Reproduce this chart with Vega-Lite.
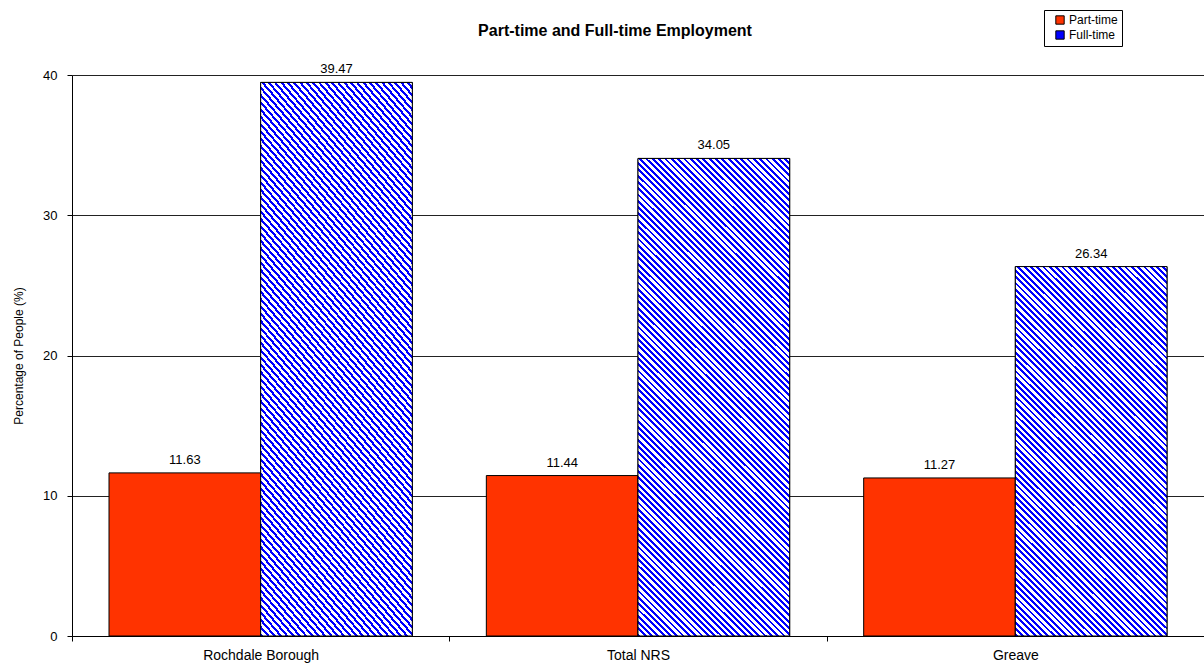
{
  "$schema": "https://vega.github.io/schema/vega-lite/v6.json",
  "width": 1132,
  "height": 561,
  "autosize": "none",
  "padding": {"left": 72, "top": 75, "right": 0, "bottom": 29},
  "background": "white",
  "title": {"text": "Part-time and Full-time Employment", "font": "Liberation Sans", "fontSize": 16, "fontWeight": "bold", "color": "black", "anchor": "middle", "frame": "group", "dx": -23, "offset": -29},
  "config": {"view": {"stroke": null}, "font": "Liberation Sans"},
  "data": {"values": [
    {"area": "Rochdale Borough", "type": "Part-time", "pct": 11.63},
    {"area": "Rochdale Borough", "type": "Full-time", "pct": 39.47},
    {"area": "Total NRS", "type": "Part-time", "pct": 11.44},
    {"area": "Total NRS", "type": "Full-time", "pct": 34.05},
    {"area": "Greave", "type": "Part-time", "pct": 11.27},
    {"area": "Greave", "type": "Full-time", "pct": 26.34}
  ]},
  "encoding": {
    "x": {"field": "area", "type": "nominal", "sort": ["Rochdale Borough", "Total NRS", "Greave"],
      "scale": {"paddingInner": 0, "paddingOuter": 0},
      "axis": {"title": null, "labelAngle": 0, "labelFontSize": 14, "labelColor": "black", "labelPadding": 7, "tickBand": "extent", "tickColor": "black", "tickSize": 5, "domainColor": "black", "grid": false}},
    "xOffset": {"field": "type", "type": "nominal", "scale": {"domain": ["Part-time", "Full-time"], "paddingOuter": 0.244, "paddingInner": 0}},
    "y": {"field": "pct", "type": "quantitative", "scale": {"domain": [0, 40]},
      "axis": {"title": "Percentage of People (%)", "titleFontSize": 12, "titleFontWeight": "normal", "titleColor": "black", "titlePadding": 17, "values": [0, 10, 20, 30, 40], "labelFontSize": 13, "labelColor": "black", "labelPadding": 10, "tickColor": "black", "tickSize": 5, "domainColor": "black", "grid": true, "gridColor": "#222", "gridWidth": 1}}
  },
  "layer": [
    {
      "mark": {"type": "bar", "stroke": "black", "strokeWidth": 1},
      "encoding": {
        "color": {"field": "type", "type": "nominal",
          "scale": {"domain": ["Part-time", "Full-time"], "range": ["#ff3300", "#0000ff"]},
          "legend": {"title": null, "orient": "none", "legendX": 972, "legendY": -65, "strokeColor": "black", "fillColor": "white", "padding": 4, "labelFontSize": 12, "labelColor": "black", "labelFont": "Liberation Sans", "symbolType": "square", "symbolSize": 70, "symbolStrokeColor": "black", "symbolStrokeWidth": 1, "symbolOpacity": 1, "symbolOffset": 6, "rowPadding": 1, "labelOffset": 3, "cornerRadius": 0}
        }
      }
    },
    {
      "transform": [{"filter": "datum.type === 'Full-time' && datum.area === 'Greave'"}],
      "mark": {"type": "bar", "stroke": "black", "strokeWidth": 1, "fill": {"gradient": "linear", "x1": 0, "y1": 1, "x2": 0.5954, "y2": -0.4567, "stops": [
{"offset":0,"color":"#00f"},{"offset":0.0045,"color":"#00f"},{"offset":0.0045,"color":"#fff"},{"offset":0.01,"color":"#fff"},
{"offset":0.01,"color":"#00f"},{"offset":0.0145,"color":"#00f"},{"offset":0.0145,"color":"#fff"},{"offset":0.02,"color":"#fff"},
{"offset":0.02,"color":"#00f"},{"offset":0.0245,"color":"#00f"},{"offset":0.0245,"color":"#fff"},{"offset":0.03,"color":"#fff"},
{"offset":0.03,"color":"#00f"},{"offset":0.0345,"color":"#00f"},{"offset":0.0345,"color":"#fff"},{"offset":0.04,"color":"#fff"},
{"offset":0.04,"color":"#00f"},{"offset":0.0445,"color":"#00f"},{"offset":0.0445,"color":"#fff"},{"offset":0.05,"color":"#fff"},
{"offset":0.05,"color":"#00f"},{"offset":0.0545,"color":"#00f"},{"offset":0.0545,"color":"#fff"},{"offset":0.06,"color":"#fff"},
{"offset":0.06,"color":"#00f"},{"offset":0.0645,"color":"#00f"},{"offset":0.0645,"color":"#fff"},{"offset":0.07,"color":"#fff"},
{"offset":0.07,"color":"#00f"},{"offset":0.0745,"color":"#00f"},{"offset":0.0745,"color":"#fff"},{"offset":0.08,"color":"#fff"},
{"offset":0.08,"color":"#00f"},{"offset":0.0845,"color":"#00f"},{"offset":0.0845,"color":"#fff"},{"offset":0.09,"color":"#fff"},
{"offset":0.09,"color":"#00f"},{"offset":0.0945,"color":"#00f"},{"offset":0.0945,"color":"#fff"},{"offset":0.10,"color":"#fff"},
{"offset":0.10,"color":"#00f"},{"offset":0.1045,"color":"#00f"},{"offset":0.1045,"color":"#fff"},{"offset":0.11,"color":"#fff"},
{"offset":0.11,"color":"#00f"},{"offset":0.1145,"color":"#00f"},{"offset":0.1145,"color":"#fff"},{"offset":0.12,"color":"#fff"},
{"offset":0.12,"color":"#00f"},{"offset":0.1245,"color":"#00f"},{"offset":0.1245,"color":"#fff"},{"offset":0.13,"color":"#fff"},
{"offset":0.13,"color":"#00f"},{"offset":0.1345,"color":"#00f"},{"offset":0.1345,"color":"#fff"},{"offset":0.14,"color":"#fff"},
{"offset":0.14,"color":"#00f"},{"offset":0.1445,"color":"#00f"},{"offset":0.1445,"color":"#fff"},{"offset":0.15,"color":"#fff"},
{"offset":0.15,"color":"#00f"},{"offset":0.1545,"color":"#00f"},{"offset":0.1545,"color":"#fff"},{"offset":0.16,"color":"#fff"},
{"offset":0.16,"color":"#00f"},{"offset":0.1645,"color":"#00f"},{"offset":0.1645,"color":"#fff"},{"offset":0.17,"color":"#fff"},
{"offset":0.17,"color":"#00f"},{"offset":0.1745,"color":"#00f"},{"offset":0.1745,"color":"#fff"},{"offset":0.18,"color":"#fff"},
{"offset":0.18,"color":"#00f"},{"offset":0.1845,"color":"#00f"},{"offset":0.1845,"color":"#fff"},{"offset":0.19,"color":"#fff"},
{"offset":0.19,"color":"#00f"},{"offset":0.1945,"color":"#00f"},{"offset":0.1945,"color":"#fff"},{"offset":0.20,"color":"#fff"},
{"offset":0.20,"color":"#00f"},{"offset":0.2045,"color":"#00f"},{"offset":0.2045,"color":"#fff"},{"offset":0.21,"color":"#fff"},
{"offset":0.21,"color":"#00f"},{"offset":0.2145,"color":"#00f"},{"offset":0.2145,"color":"#fff"},{"offset":0.22,"color":"#fff"},
{"offset":0.22,"color":"#00f"},{"offset":0.2245,"color":"#00f"},{"offset":0.2245,"color":"#fff"},{"offset":0.23,"color":"#fff"},
{"offset":0.23,"color":"#00f"},{"offset":0.2345,"color":"#00f"},{"offset":0.2345,"color":"#fff"},{"offset":0.24,"color":"#fff"},
{"offset":0.24,"color":"#00f"},{"offset":0.2445,"color":"#00f"},{"offset":0.2445,"color":"#fff"},{"offset":0.25,"color":"#fff"},
{"offset":0.25,"color":"#00f"},{"offset":0.2545,"color":"#00f"},{"offset":0.2545,"color":"#fff"},{"offset":0.26,"color":"#fff"},
{"offset":0.26,"color":"#00f"},{"offset":0.2645,"color":"#00f"},{"offset":0.2645,"color":"#fff"},{"offset":0.27,"color":"#fff"},
{"offset":0.27,"color":"#00f"},{"offset":0.2745,"color":"#00f"},{"offset":0.2745,"color":"#fff"},{"offset":0.28,"color":"#fff"},
{"offset":0.28,"color":"#00f"},{"offset":0.2845,"color":"#00f"},{"offset":0.2845,"color":"#fff"},{"offset":0.29,"color":"#fff"},
{"offset":0.29,"color":"#00f"},{"offset":0.2945,"color":"#00f"},{"offset":0.2945,"color":"#fff"},{"offset":0.30,"color":"#fff"},
{"offset":0.30,"color":"#00f"},{"offset":0.3045,"color":"#00f"},{"offset":0.3045,"color":"#fff"},{"offset":0.31,"color":"#fff"},
{"offset":0.31,"color":"#00f"},{"offset":0.3145,"color":"#00f"},{"offset":0.3145,"color":"#fff"},{"offset":0.32,"color":"#fff"},
{"offset":0.32,"color":"#00f"},{"offset":0.3245,"color":"#00f"},{"offset":0.3245,"color":"#fff"},{"offset":0.33,"color":"#fff"},
{"offset":0.33,"color":"#00f"},{"offset":0.3345,"color":"#00f"},{"offset":0.3345,"color":"#fff"},{"offset":0.34,"color":"#fff"},
{"offset":0.34,"color":"#00f"},{"offset":0.3445,"color":"#00f"},{"offset":0.3445,"color":"#fff"},{"offset":0.35,"color":"#fff"},
{"offset":0.35,"color":"#00f"},{"offset":0.3545,"color":"#00f"},{"offset":0.3545,"color":"#fff"},{"offset":0.36,"color":"#fff"},
{"offset":0.36,"color":"#00f"},{"offset":0.3645,"color":"#00f"},{"offset":0.3645,"color":"#fff"},{"offset":0.37,"color":"#fff"},
{"offset":0.37,"color":"#00f"},{"offset":0.3745,"color":"#00f"},{"offset":0.3745,"color":"#fff"},{"offset":0.38,"color":"#fff"},
{"offset":0.38,"color":"#00f"},{"offset":0.3845,"color":"#00f"},{"offset":0.3845,"color":"#fff"},{"offset":0.39,"color":"#fff"},
{"offset":0.39,"color":"#00f"},{"offset":0.3945,"color":"#00f"},{"offset":0.3945,"color":"#fff"},{"offset":0.40,"color":"#fff"},
{"offset":0.40,"color":"#00f"},{"offset":0.4045,"color":"#00f"},{"offset":0.4045,"color":"#fff"},{"offset":0.41,"color":"#fff"},
{"offset":0.41,"color":"#00f"},{"offset":0.4145,"color":"#00f"},{"offset":0.4145,"color":"#fff"},{"offset":0.42,"color":"#fff"},
{"offset":0.42,"color":"#00f"},{"offset":0.4245,"color":"#00f"},{"offset":0.4245,"color":"#fff"},{"offset":0.43,"color":"#fff"},
{"offset":0.43,"color":"#00f"},{"offset":0.4345,"color":"#00f"},{"offset":0.4345,"color":"#fff"},{"offset":0.44,"color":"#fff"},
{"offset":0.44,"color":"#00f"},{"offset":0.4445,"color":"#00f"},{"offset":0.4445,"color":"#fff"},{"offset":0.45,"color":"#fff"},
{"offset":0.45,"color":"#00f"},{"offset":0.4545,"color":"#00f"},{"offset":0.4545,"color":"#fff"},{"offset":0.46,"color":"#fff"},
{"offset":0.46,"color":"#00f"},{"offset":0.4645,"color":"#00f"},{"offset":0.4645,"color":"#fff"},{"offset":0.47,"color":"#fff"},
{"offset":0.47,"color":"#00f"},{"offset":0.4745,"color":"#00f"},{"offset":0.4745,"color":"#fff"},{"offset":0.48,"color":"#fff"},
{"offset":0.48,"color":"#00f"},{"offset":0.4845,"color":"#00f"},{"offset":0.4845,"color":"#fff"},{"offset":0.49,"color":"#fff"},
{"offset":0.49,"color":"#00f"},{"offset":0.4945,"color":"#00f"},{"offset":0.4945,"color":"#fff"},{"offset":0.50,"color":"#fff"},
{"offset":0.50,"color":"#00f"},{"offset":0.5045,"color":"#00f"},{"offset":0.5045,"color":"#fff"},{"offset":0.51,"color":"#fff"},
{"offset":0.51,"color":"#00f"},{"offset":0.5145,"color":"#00f"},{"offset":0.5145,"color":"#fff"},{"offset":0.52,"color":"#fff"},
{"offset":0.52,"color":"#00f"},{"offset":0.5245,"color":"#00f"},{"offset":0.5245,"color":"#fff"},{"offset":0.53,"color":"#fff"},
{"offset":0.53,"color":"#00f"},{"offset":0.5345,"color":"#00f"},{"offset":0.5345,"color":"#fff"},{"offset":0.54,"color":"#fff"},
{"offset":0.54,"color":"#00f"},{"offset":0.5445,"color":"#00f"},{"offset":0.5445,"color":"#fff"},{"offset":0.55,"color":"#fff"},
{"offset":0.55,"color":"#00f"},{"offset":0.5545,"color":"#00f"},{"offset":0.5545,"color":"#fff"},{"offset":0.56,"color":"#fff"},
{"offset":0.56,"color":"#00f"},{"offset":0.5645,"color":"#00f"},{"offset":0.5645,"color":"#fff"},{"offset":0.57,"color":"#fff"},
{"offset":0.57,"color":"#00f"},{"offset":0.5745,"color":"#00f"},{"offset":0.5745,"color":"#fff"},{"offset":0.58,"color":"#fff"},
{"offset":0.58,"color":"#00f"},{"offset":0.5845,"color":"#00f"},{"offset":0.5845,"color":"#fff"},{"offset":0.59,"color":"#fff"},
{"offset":0.59,"color":"#00f"},{"offset":0.5945,"color":"#00f"},{"offset":0.5945,"color":"#fff"},{"offset":0.60,"color":"#fff"},
{"offset":0.60,"color":"#00f"},{"offset":0.6045,"color":"#00f"},{"offset":0.6045,"color":"#fff"},{"offset":0.61,"color":"#fff"},
{"offset":0.61,"color":"#00f"},{"offset":0.6145,"color":"#00f"},{"offset":0.6145,"color":"#fff"},{"offset":0.62,"color":"#fff"},
{"offset":0.62,"color":"#00f"},{"offset":0.6245,"color":"#00f"},{"offset":0.6245,"color":"#fff"},{"offset":0.63,"color":"#fff"},
{"offset":0.63,"color":"#00f"},{"offset":0.6345,"color":"#00f"},{"offset":0.6345,"color":"#fff"},{"offset":0.64,"color":"#fff"},
{"offset":0.64,"color":"#00f"},{"offset":0.6445,"color":"#00f"},{"offset":0.6445,"color":"#fff"},{"offset":0.65,"color":"#fff"},
{"offset":0.65,"color":"#00f"},{"offset":0.6545,"color":"#00f"},{"offset":0.6545,"color":"#fff"},{"offset":0.66,"color":"#fff"},
{"offset":0.66,"color":"#00f"},{"offset":0.6645,"color":"#00f"},{"offset":0.6645,"color":"#fff"},{"offset":0.67,"color":"#fff"},
{"offset":0.67,"color":"#00f"},{"offset":0.6745,"color":"#00f"},{"offset":0.6745,"color":"#fff"},{"offset":0.68,"color":"#fff"},
{"offset":0.68,"color":"#00f"},{"offset":0.6845,"color":"#00f"},{"offset":0.6845,"color":"#fff"},{"offset":0.69,"color":"#fff"},
{"offset":0.69,"color":"#00f"},{"offset":0.6945,"color":"#00f"},{"offset":0.6945,"color":"#fff"},{"offset":0.70,"color":"#fff"},
{"offset":0.70,"color":"#00f"},{"offset":0.7045,"color":"#00f"},{"offset":0.7045,"color":"#fff"},{"offset":0.71,"color":"#fff"},
{"offset":0.71,"color":"#00f"},{"offset":0.7145,"color":"#00f"},{"offset":0.7145,"color":"#fff"},{"offset":0.72,"color":"#fff"},
{"offset":0.72,"color":"#00f"},{"offset":0.7245,"color":"#00f"},{"offset":0.7245,"color":"#fff"},{"offset":0.73,"color":"#fff"},
{"offset":0.73,"color":"#00f"},{"offset":0.7345,"color":"#00f"},{"offset":0.7345,"color":"#fff"},{"offset":0.74,"color":"#fff"},
{"offset":0.74,"color":"#00f"},{"offset":0.7445,"color":"#00f"},{"offset":0.7445,"color":"#fff"},{"offset":0.75,"color":"#fff"},
{"offset":0.75,"color":"#00f"},{"offset":0.7545,"color":"#00f"},{"offset":0.7545,"color":"#fff"},{"offset":0.76,"color":"#fff"},
{"offset":0.76,"color":"#00f"},{"offset":0.7645,"color":"#00f"},{"offset":0.7645,"color":"#fff"},{"offset":0.77,"color":"#fff"},
{"offset":0.77,"color":"#00f"},{"offset":0.7745,"color":"#00f"},{"offset":0.7745,"color":"#fff"},{"offset":0.78,"color":"#fff"},
{"offset":0.78,"color":"#00f"},{"offset":0.7845,"color":"#00f"},{"offset":0.7845,"color":"#fff"},{"offset":0.79,"color":"#fff"},
{"offset":0.79,"color":"#00f"},{"offset":0.7945,"color":"#00f"},{"offset":0.7945,"color":"#fff"},{"offset":0.80,"color":"#fff"},
{"offset":0.80,"color":"#00f"},{"offset":0.8045,"color":"#00f"},{"offset":0.8045,"color":"#fff"},{"offset":0.81,"color":"#fff"},
{"offset":0.81,"color":"#00f"},{"offset":0.8145,"color":"#00f"},{"offset":0.8145,"color":"#fff"},{"offset":0.82,"color":"#fff"},
{"offset":0.82,"color":"#00f"},{"offset":0.8245,"color":"#00f"},{"offset":0.8245,"color":"#fff"},{"offset":0.83,"color":"#fff"},
{"offset":0.83,"color":"#00f"},{"offset":0.8345,"color":"#00f"},{"offset":0.8345,"color":"#fff"},{"offset":0.84,"color":"#fff"},
{"offset":0.84,"color":"#00f"},{"offset":0.8445,"color":"#00f"},{"offset":0.8445,"color":"#fff"},{"offset":0.85,"color":"#fff"},
{"offset":0.85,"color":"#00f"},{"offset":0.8545,"color":"#00f"},{"offset":0.8545,"color":"#fff"},{"offset":0.86,"color":"#fff"}
      ]}}
    },
    {
      "transform": [{"filter": "datum.type === 'Full-time' && datum.area !== 'Greave'"}],
      "mark": {"type": "bar", "stroke": "black", "strokeWidth": 1, "fill": {"gradient": "linear", "x1": 0, "y1": 1, "x2": 0.3788, "y2": -0.1967, "stops": [
{"offset":0,"color":"#00f"},{"offset":0.0045,"color":"#00f"},{"offset":0.0045,"color":"#fff"},{"offset":0.01,"color":"#fff"},
{"offset":0.01,"color":"#00f"},{"offset":0.0145,"color":"#00f"},{"offset":0.0145,"color":"#fff"},{"offset":0.02,"color":"#fff"},
{"offset":0.02,"color":"#00f"},{"offset":0.0245,"color":"#00f"},{"offset":0.0245,"color":"#fff"},{"offset":0.03,"color":"#fff"},
{"offset":0.03,"color":"#00f"},{"offset":0.0345,"color":"#00f"},{"offset":0.0345,"color":"#fff"},{"offset":0.04,"color":"#fff"},
{"offset":0.04,"color":"#00f"},{"offset":0.0445,"color":"#00f"},{"offset":0.0445,"color":"#fff"},{"offset":0.05,"color":"#fff"},
{"offset":0.05,"color":"#00f"},{"offset":0.0545,"color":"#00f"},{"offset":0.0545,"color":"#fff"},{"offset":0.06,"color":"#fff"},
{"offset":0.06,"color":"#00f"},{"offset":0.0645,"color":"#00f"},{"offset":0.0645,"color":"#fff"},{"offset":0.07,"color":"#fff"},
{"offset":0.07,"color":"#00f"},{"offset":0.0745,"color":"#00f"},{"offset":0.0745,"color":"#fff"},{"offset":0.08,"color":"#fff"},
{"offset":0.08,"color":"#00f"},{"offset":0.0845,"color":"#00f"},{"offset":0.0845,"color":"#fff"},{"offset":0.09,"color":"#fff"},
{"offset":0.09,"color":"#00f"},{"offset":0.0945,"color":"#00f"},{"offset":0.0945,"color":"#fff"},{"offset":0.10,"color":"#fff"},
{"offset":0.10,"color":"#00f"},{"offset":0.1045,"color":"#00f"},{"offset":0.1045,"color":"#fff"},{"offset":0.11,"color":"#fff"},
{"offset":0.11,"color":"#00f"},{"offset":0.1145,"color":"#00f"},{"offset":0.1145,"color":"#fff"},{"offset":0.12,"color":"#fff"},
{"offset":0.12,"color":"#00f"},{"offset":0.1245,"color":"#00f"},{"offset":0.1245,"color":"#fff"},{"offset":0.13,"color":"#fff"},
{"offset":0.13,"color":"#00f"},{"offset":0.1345,"color":"#00f"},{"offset":0.1345,"color":"#fff"},{"offset":0.14,"color":"#fff"},
{"offset":0.14,"color":"#00f"},{"offset":0.1445,"color":"#00f"},{"offset":0.1445,"color":"#fff"},{"offset":0.15,"color":"#fff"},
{"offset":0.15,"color":"#00f"},{"offset":0.1545,"color":"#00f"},{"offset":0.1545,"color":"#fff"},{"offset":0.16,"color":"#fff"},
{"offset":0.16,"color":"#00f"},{"offset":0.1645,"color":"#00f"},{"offset":0.1645,"color":"#fff"},{"offset":0.17,"color":"#fff"},
{"offset":0.17,"color":"#00f"},{"offset":0.1745,"color":"#00f"},{"offset":0.1745,"color":"#fff"},{"offset":0.18,"color":"#fff"},
{"offset":0.18,"color":"#00f"},{"offset":0.1845,"color":"#00f"},{"offset":0.1845,"color":"#fff"},{"offset":0.19,"color":"#fff"},
{"offset":0.19,"color":"#00f"},{"offset":0.1945,"color":"#00f"},{"offset":0.1945,"color":"#fff"},{"offset":0.20,"color":"#fff"},
{"offset":0.20,"color":"#00f"},{"offset":0.2045,"color":"#00f"},{"offset":0.2045,"color":"#fff"},{"offset":0.21,"color":"#fff"},
{"offset":0.21,"color":"#00f"},{"offset":0.2145,"color":"#00f"},{"offset":0.2145,"color":"#fff"},{"offset":0.22,"color":"#fff"},
{"offset":0.22,"color":"#00f"},{"offset":0.2245,"color":"#00f"},{"offset":0.2245,"color":"#fff"},{"offset":0.23,"color":"#fff"},
{"offset":0.23,"color":"#00f"},{"offset":0.2345,"color":"#00f"},{"offset":0.2345,"color":"#fff"},{"offset":0.24,"color":"#fff"},
{"offset":0.24,"color":"#00f"},{"offset":0.2445,"color":"#00f"},{"offset":0.2445,"color":"#fff"},{"offset":0.25,"color":"#fff"},
{"offset":0.25,"color":"#00f"},{"offset":0.2545,"color":"#00f"},{"offset":0.2545,"color":"#fff"},{"offset":0.26,"color":"#fff"},
{"offset":0.26,"color":"#00f"},{"offset":0.2645,"color":"#00f"},{"offset":0.2645,"color":"#fff"},{"offset":0.27,"color":"#fff"},
{"offset":0.27,"color":"#00f"},{"offset":0.2745,"color":"#00f"},{"offset":0.2745,"color":"#fff"},{"offset":0.28,"color":"#fff"},
{"offset":0.28,"color":"#00f"},{"offset":0.2845,"color":"#00f"},{"offset":0.2845,"color":"#fff"},{"offset":0.29,"color":"#fff"},
{"offset":0.29,"color":"#00f"},{"offset":0.2945,"color":"#00f"},{"offset":0.2945,"color":"#fff"},{"offset":0.30,"color":"#fff"},
{"offset":0.30,"color":"#00f"},{"offset":0.3045,"color":"#00f"},{"offset":0.3045,"color":"#fff"},{"offset":0.31,"color":"#fff"},
{"offset":0.31,"color":"#00f"},{"offset":0.3145,"color":"#00f"},{"offset":0.3145,"color":"#fff"},{"offset":0.32,"color":"#fff"},
{"offset":0.32,"color":"#00f"},{"offset":0.3245,"color":"#00f"},{"offset":0.3245,"color":"#fff"},{"offset":0.33,"color":"#fff"},
{"offset":0.33,"color":"#00f"},{"offset":0.3345,"color":"#00f"},{"offset":0.3345,"color":"#fff"},{"offset":0.34,"color":"#fff"},
{"offset":0.34,"color":"#00f"},{"offset":0.3445,"color":"#00f"},{"offset":0.3445,"color":"#fff"},{"offset":0.35,"color":"#fff"},
{"offset":0.35,"color":"#00f"},{"offset":0.3545,"color":"#00f"},{"offset":0.3545,"color":"#fff"},{"offset":0.36,"color":"#fff"},
{"offset":0.36,"color":"#00f"},{"offset":0.3645,"color":"#00f"},{"offset":0.3645,"color":"#fff"},{"offset":0.37,"color":"#fff"},
{"offset":0.37,"color":"#00f"},{"offset":0.3745,"color":"#00f"},{"offset":0.3745,"color":"#fff"},{"offset":0.38,"color":"#fff"},
{"offset":0.38,"color":"#00f"},{"offset":0.3845,"color":"#00f"},{"offset":0.3845,"color":"#fff"},{"offset":0.39,"color":"#fff"},
{"offset":0.39,"color":"#00f"},{"offset":0.3945,"color":"#00f"},{"offset":0.3945,"color":"#fff"},{"offset":0.40,"color":"#fff"},
{"offset":0.40,"color":"#00f"},{"offset":0.4045,"color":"#00f"},{"offset":0.4045,"color":"#fff"},{"offset":0.41,"color":"#fff"},
{"offset":0.41,"color":"#00f"},{"offset":0.4145,"color":"#00f"},{"offset":0.4145,"color":"#fff"},{"offset":0.42,"color":"#fff"},
{"offset":0.42,"color":"#00f"},{"offset":0.4245,"color":"#00f"},{"offset":0.4245,"color":"#fff"},{"offset":0.43,"color":"#fff"},
{"offset":0.43,"color":"#00f"},{"offset":0.4345,"color":"#00f"},{"offset":0.4345,"color":"#fff"},{"offset":0.44,"color":"#fff"},
{"offset":0.44,"color":"#00f"},{"offset":0.4445,"color":"#00f"},{"offset":0.4445,"color":"#fff"},{"offset":0.45,"color":"#fff"},
{"offset":0.45,"color":"#00f"},{"offset":0.4545,"color":"#00f"},{"offset":0.4545,"color":"#fff"},{"offset":0.46,"color":"#fff"},
{"offset":0.46,"color":"#00f"},{"offset":0.4645,"color":"#00f"},{"offset":0.4645,"color":"#fff"},{"offset":0.47,"color":"#fff"},
{"offset":0.47,"color":"#00f"},{"offset":0.4745,"color":"#00f"},{"offset":0.4745,"color":"#fff"},{"offset":0.48,"color":"#fff"},
{"offset":0.48,"color":"#00f"},{"offset":0.4845,"color":"#00f"},{"offset":0.4845,"color":"#fff"},{"offset":0.49,"color":"#fff"},
{"offset":0.49,"color":"#00f"},{"offset":0.4945,"color":"#00f"},{"offset":0.4945,"color":"#fff"},{"offset":0.50,"color":"#fff"},
{"offset":0.50,"color":"#00f"},{"offset":0.5045,"color":"#00f"},{"offset":0.5045,"color":"#fff"},{"offset":0.51,"color":"#fff"},
{"offset":0.51,"color":"#00f"},{"offset":0.5145,"color":"#00f"},{"offset":0.5145,"color":"#fff"},{"offset":0.52,"color":"#fff"},
{"offset":0.52,"color":"#00f"},{"offset":0.5245,"color":"#00f"},{"offset":0.5245,"color":"#fff"},{"offset":0.53,"color":"#fff"},
{"offset":0.53,"color":"#00f"},{"offset":0.5345,"color":"#00f"},{"offset":0.5345,"color":"#fff"},{"offset":0.54,"color":"#fff"},
{"offset":0.54,"color":"#00f"},{"offset":0.5445,"color":"#00f"},{"offset":0.5445,"color":"#fff"},{"offset":0.55,"color":"#fff"},
{"offset":0.55,"color":"#00f"},{"offset":0.5545,"color":"#00f"},{"offset":0.5545,"color":"#fff"},{"offset":0.56,"color":"#fff"},
{"offset":0.56,"color":"#00f"},{"offset":0.5645,"color":"#00f"},{"offset":0.5645,"color":"#fff"},{"offset":0.57,"color":"#fff"},
{"offset":0.57,"color":"#00f"},{"offset":0.5745,"color":"#00f"},{"offset":0.5745,"color":"#fff"},{"offset":0.58,"color":"#fff"},
{"offset":0.58,"color":"#00f"},{"offset":0.5845,"color":"#00f"},{"offset":0.5845,"color":"#fff"},{"offset":0.59,"color":"#fff"},
{"offset":0.59,"color":"#00f"},{"offset":0.5945,"color":"#00f"},{"offset":0.5945,"color":"#fff"},{"offset":0.60,"color":"#fff"},
{"offset":0.60,"color":"#00f"},{"offset":0.6045,"color":"#00f"},{"offset":0.6045,"color":"#fff"},{"offset":0.61,"color":"#fff"},
{"offset":0.61,"color":"#00f"},{"offset":0.6145,"color":"#00f"},{"offset":0.6145,"color":"#fff"},{"offset":0.62,"color":"#fff"},
{"offset":0.62,"color":"#00f"},{"offset":0.6245,"color":"#00f"},{"offset":0.6245,"color":"#fff"},{"offset":0.63,"color":"#fff"},
{"offset":0.63,"color":"#00f"},{"offset":0.6345,"color":"#00f"},{"offset":0.6345,"color":"#fff"},{"offset":0.64,"color":"#fff"},
{"offset":0.64,"color":"#00f"},{"offset":0.6445,"color":"#00f"},{"offset":0.6445,"color":"#fff"},{"offset":0.65,"color":"#fff"},
{"offset":0.65,"color":"#00f"},{"offset":0.6545,"color":"#00f"},{"offset":0.6545,"color":"#fff"},{"offset":0.66,"color":"#fff"},
{"offset":0.66,"color":"#00f"},{"offset":0.6645,"color":"#00f"},{"offset":0.6645,"color":"#fff"},{"offset":0.67,"color":"#fff"},
{"offset":0.67,"color":"#00f"},{"offset":0.6745,"color":"#00f"},{"offset":0.6745,"color":"#fff"},{"offset":0.68,"color":"#fff"},
{"offset":0.68,"color":"#00f"},{"offset":0.6845,"color":"#00f"},{"offset":0.6845,"color":"#fff"},{"offset":0.69,"color":"#fff"},
{"offset":0.69,"color":"#00f"},{"offset":0.6945,"color":"#00f"},{"offset":0.6945,"color":"#fff"},{"offset":0.70,"color":"#fff"},
{"offset":0.70,"color":"#00f"},{"offset":0.7045,"color":"#00f"},{"offset":0.7045,"color":"#fff"},{"offset":0.71,"color":"#fff"},
{"offset":0.71,"color":"#00f"},{"offset":0.7145,"color":"#00f"},{"offset":0.7145,"color":"#fff"},{"offset":0.72,"color":"#fff"},
{"offset":0.72,"color":"#00f"},{"offset":0.7245,"color":"#00f"},{"offset":0.7245,"color":"#fff"},{"offset":0.73,"color":"#fff"},
{"offset":0.73,"color":"#00f"},{"offset":0.7345,"color":"#00f"},{"offset":0.7345,"color":"#fff"},{"offset":0.74,"color":"#fff"},
{"offset":0.74,"color":"#00f"},{"offset":0.7445,"color":"#00f"},{"offset":0.7445,"color":"#fff"},{"offset":0.75,"color":"#fff"},
{"offset":0.75,"color":"#00f"},{"offset":0.7545,"color":"#00f"},{"offset":0.7545,"color":"#fff"},{"offset":0.76,"color":"#fff"},
{"offset":0.76,"color":"#00f"},{"offset":0.7645,"color":"#00f"},{"offset":0.7645,"color":"#fff"},{"offset":0.77,"color":"#fff"},
{"offset":0.77,"color":"#00f"},{"offset":0.7745,"color":"#00f"},{"offset":0.7745,"color":"#fff"},{"offset":0.78,"color":"#fff"},
{"offset":0.78,"color":"#00f"},{"offset":0.7845,"color":"#00f"},{"offset":0.7845,"color":"#fff"},{"offset":0.79,"color":"#fff"},
{"offset":0.79,"color":"#00f"},{"offset":0.7945,"color":"#00f"},{"offset":0.7945,"color":"#fff"},{"offset":0.80,"color":"#fff"},
{"offset":0.80,"color":"#00f"},{"offset":0.8045,"color":"#00f"},{"offset":0.8045,"color":"#fff"},{"offset":0.81,"color":"#fff"},
{"offset":0.81,"color":"#00f"},{"offset":0.8145,"color":"#00f"},{"offset":0.8145,"color":"#fff"},{"offset":0.82,"color":"#fff"},
{"offset":0.82,"color":"#00f"},{"offset":0.8245,"color":"#00f"},{"offset":0.8245,"color":"#fff"},{"offset":0.83,"color":"#fff"},
{"offset":0.83,"color":"#00f"},{"offset":0.8345,"color":"#00f"},{"offset":0.8345,"color":"#fff"},{"offset":0.84,"color":"#fff"},
{"offset":0.84,"color":"#00f"},{"offset":0.8445,"color":"#00f"},{"offset":0.8445,"color":"#fff"},{"offset":0.85,"color":"#fff"},
{"offset":0.85,"color":"#00f"},{"offset":0.8545,"color":"#00f"},{"offset":0.8545,"color":"#fff"},{"offset":0.86,"color":"#fff"},
{"offset":0.86,"color":"#00f"},{"offset":0.8645,"color":"#00f"},{"offset":0.8645,"color":"#fff"},{"offset":0.87,"color":"#fff"},
{"offset":0.87,"color":"#00f"},{"offset":0.8745,"color":"#00f"},{"offset":0.8745,"color":"#fff"},{"offset":0.88,"color":"#fff"},
{"offset":0.88,"color":"#00f"},{"offset":0.8845,"color":"#00f"},{"offset":0.8845,"color":"#fff"},{"offset":0.89,"color":"#fff"},
{"offset":0.89,"color":"#00f"},{"offset":0.8945,"color":"#00f"},{"offset":0.8945,"color":"#fff"},{"offset":0.90,"color":"#fff"},
{"offset":0.90,"color":"#00f"},{"offset":0.9045,"color":"#00f"},{"offset":0.9045,"color":"#fff"},{"offset":0.91,"color":"#fff"},
{"offset":0.91,"color":"#00f"},{"offset":0.9145,"color":"#00f"},{"offset":0.9145,"color":"#fff"},{"offset":0.92,"color":"#fff"},
{"offset":0.92,"color":"#00f"},{"offset":0.9245,"color":"#00f"},{"offset":0.9245,"color":"#fff"},{"offset":0.93,"color":"#fff"},
{"offset":0.93,"color":"#00f"},{"offset":0.9345,"color":"#00f"},{"offset":0.9345,"color":"#fff"},{"offset":0.94,"color":"#fff"},
{"offset":0.94,"color":"#00f"},{"offset":0.9445,"color":"#00f"},{"offset":0.9445,"color":"#fff"},{"offset":0.95,"color":"#fff"},
{"offset":0.95,"color":"#00f"},{"offset":0.9545,"color":"#00f"},{"offset":0.9545,"color":"#fff"},{"offset":0.96,"color":"#fff"},
{"offset":0.96,"color":"#00f"},{"offset":0.9645,"color":"#00f"},{"offset":0.9645,"color":"#fff"},{"offset":0.97,"color":"#fff"},
{"offset":0.97,"color":"#00f"},{"offset":0.9745,"color":"#00f"},{"offset":0.9745,"color":"#fff"},{"offset":0.98,"color":"#fff"},
{"offset":0.98,"color":"#00f"},{"offset":0.9845,"color":"#00f"},{"offset":0.9845,"color":"#fff"},{"offset":0.99,"color":"#fff"},
{"offset":0.99,"color":"#00f"},{"offset":0.9945,"color":"#00f"},{"offset":0.9945,"color":"#fff"},{"offset":1,"color":"#fff"}
      ]}}
    },
    {
      "mark": {"type": "text", "baseline": "alphabetic", "dy": -9, "fontSize": 13, "color": "black", "font": "Liberation Sans"},
      "encoding": {
        "text": {"field": "pct", "type": "quantitative", "format": ".2f"}
      }
    }
  ]
}
